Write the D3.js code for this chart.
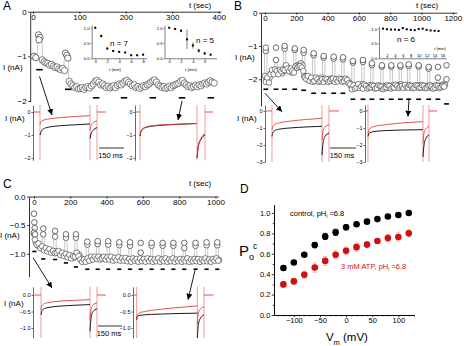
<!DOCTYPE html>
<html lang="en">
<head>
<meta charset="UTF-8">
<title>Figure</title>
<script src="https://cdn.jsdelivr.net/npm/d3@7/dist/d3.min.js"></script>
<style>
  body { margin: 0; background: #fff; }
  svg { display: block; }
</style>
</head>
<body>
<svg width="464" height="346"></svg>
<script>
// ---------- data: panel A time course ----------
const aEarly = [[2, -1.0], [6, -1.03], [12, -0.52], [15, -0.58], [13, -0.63], [70, -0.93], [73, -0.98], [75, -1.04]];
const aSpikeLines = [[10, -0.68, -0.95], [20, -0.68, -1.05], [67, -1.1, -1.35], [77, -1.12, -1.5]];
const aCloud1Start = 20, aCloud2Start = 78, aStep = 4;
const aCloud1 = [-1.08, -1.12, -1.15, -1.16, -1.2, -1.18, -1.22, -1.25, -1.24, -1.28, -1.3, -1.27, -1.32];
const aCloud2 = [-1.56, -1.62, -1.66, -1.7, -1.68, -1.73, -1.72, -1.7, -1.74, -1.7, -1.68, -1.71, -1.66, -1.62, -1.56, -1.54,
  -1.58, -1.64, -1.62, -1.66, -1.7, -1.67, -1.71, -1.68, -1.66, -1.7, -1.65, -1.62, -1.64, -1.6, -1.56, -1.54,
  -1.58, -1.62, -1.66, -1.64, -1.7, -1.68, -1.72, -1.69, -1.66, -1.68, -1.64, -1.62, -1.58, -1.55, -1.53,
  -1.58, -1.64, -1.67, -1.7, -1.68, -1.72, -1.7, -1.67, -1.7, -1.66, -1.64, -1.62, -1.6, -1.56, -1.54,
  -1.6, -1.64, -1.68, -1.66, -1.7, -1.68, -1.65, -1.68, -1.64, -1.66, -1.62, -1.6, -1.62, -1.58, -1.55, -1.58, -1.6];
const aDashes = [[14, -1.3], [76, -1.74], [136, -1.93], [196, -1.93], [258, -1.93], [321, -1.93], [383, -1.93]];

// insets of A
const aIn1T = [0, 1, 2, 3, 4, 5, 6, 7, 8];
const aIn1V = [1.0, 0.73, 0.32, 0.24, 0.21, 0.19, 0.1, 0.1, 0.12];
const aIn1E = [0.03, 0.05, 0.04, 0.03, 0.03, 0.02, 0.02, 0.02, 0.03];
const aIn2T = [0, 1, 2, 3, 4, 5, 6, 7];
const aIn2V = [1.0, 0.96, 0.9, 0.62, 0.42, 0.25, 0.16, 0.12];
const aIn2E = [0.02, 0.03, 0.05, 0.32, 0.1, 0.06, 0.05, 0.03];

// ---------- data: panel B time course ----------
const bCloud1Start = 0, bCloud2Start = 5, bStep = 10;
const bCloud1 = [-1.9, -2.0, -2.05, -1.95, -1.82, -1.78, -1.75, -1.8, -1.78, -1.76, -1.8, -1.82, -1.75, -1.65, -1.62, -1.7,
  -1.75, -1.8, -1.72, -1.68, -1.6, -1.58, -1.55, -1.52, -1.58, -1.9, -1.92, -1.95, -1.98, -2.0, -2.02, -1.98, -2.0,
  -2.05, -2.02, -1.98, -1.95, -2.0, -2.02, -2.05, -2.03, -2.0, -1.98, -2.02, -2.05, -2.03, -2.0, -2.02, -2.05, -2.03,
  -2.0, -2.02, -2.05, -2.08, -2.1, -2.2, -2.25, -2.22, -2.18, -2.2, -2.22, -2.18, -2.15, -2.2, -2.24, -2.22, -2.2,
  -2.18, -2.22, -2.25, -2.23, -2.2, -2.22, -2.25, -2.27, -2.24, -2.22, -2.2, -2.24, -2.26, -2.22, -2.2, -2.18, -2.22,
  -2.25, -2.2, -2.17, -2.15, -2.2, -2.24, -2.2, -2.18, -2.22, -2.25, -2.23, -2.2, -2.22, -2.24, -2.2, -2.18, -2.22,
  -2.25, -2.23, -2.2, -2.22, -2.24, -2.26, -2.23, -2.2, -2.22, -2.25, -2.22, -2.2, -2.18, -2.15, -2.17];
const bCloud2 = [-2.08, -1.95, -2.1, -1.85, -1.72, -1.85, -1.7, -1.75, -1.85, -1.72, -1.76, -1.7, -1.72, -1.58, -1.68, -1.76,
  -1.68, -1.74, -1.8, -1.62, -1.66, -1.62, -1.6, -1.65, -1.75, -1.95, -2.0, -1.9, -2.05, -1.95, -2.08, -2.05, -1.95,
  -2.0, -2.08, -2.05, -2.0, -2.08, -1.98, -2.0, -2.08, -2.05, -2.0, -1.98, -2.08, -2.0, -2.06, -1.98, -2.0, -2.08,
  -2.05, -1.98, -2.02, -2.12, -2.15, -2.3, -2.18, -2.28, -2.25, -2.15, -2.26, -2.22, -2.28, -2.16, -2.2, -2.28, -2.25,
  -2.24, -2.18, -2.2, -2.28, -2.26, -2.18, -2.2, -2.22, -2.3, -2.26, -2.24, -2.18, -2.2, -2.28, -2.24, -2.25, -2.16,
  -2.2, -2.26, -2.22, -2.2, -2.26, -2.17, -2.24, -2.25, -2.18, -2.2, -2.27, -2.25, -2.18, -2.2, -2.26, -2.24, -2.18,
  -2.2, -2.27, -2.25, -2.2, -2.18, -2.22, -2.28, -2.25, -2.18, -2.2, -2.26, -2.24, -2.2, -2.22];
const bSpikeT = [5, 70, 125, 190, 247, 311, 375, 439, 498, 562, 626, 683, 747, 807, 865, 918, 982, 1046, 1105, 1160];
const bSpikePeak = [-1.05, -1.05, -1.0, -1.07, -1.12, -1.22, -1.3, -1.32, -1.34, -1.45, -1.42, -1.52, -1.58, -1.58, -1.58,
  -1.55, -1.58, -1.63, -1.63, -1.58];
const bSpikeSecond = [-1.15, -1.42, -1.08, -1.12, -1.2, -1.28, -1.35, -1.38, -1.4, -1.5, -1.48, -1.58, -1.62, -1.62, -1.62,
  -1.6, -1.62, -1.68, -1.95, -2.0];
const bSpikeFoot = [-1.9, -1.75, -1.65, -1.7, -1.55, -1.98, -2.0, -2.0, -2.0, -2.2, -2.2, -2.2, -2.22, -2.2, -2.2, -2.2,
  -2.2, -2.22, -2.2, -2.15];
const bDashLevel = [-2.3, -2.3, -2.3, -2.3, -2.33, -2.42, -2.42, -2.42, -2.42, -2.6, -2.6, -2.6, -2.6, -2.6, -2.6, -2.6,
  -2.6, -2.6, -2.6, -2.74];
const bInT = [1, 2, 3, 4, 5, 6, 7, 8, 9, 10, 11, 12, 13, 14, 15];
const bInV = [1.0, 0.98, 0.97, 0.97, 0.96, 1.02, 0.98, 0.96, 0.95, 0.99, 1.0, 0.96, 0.94, 0.93, 0.92];

// ---------- data: panel C time course ----------
const cEarly = [[0, -0.3], [2, -0.45], [4, -0.55], [0, -0.63], [6, -0.66]];
const cCloud1Start = 0, cCloud2Start = 5, cStep = 10;
const cCloud1 = [-0.65, -0.8, -0.85, -0.88, -0.9, -0.9, -0.92, -0.93, -0.95, -0.94, -0.96, -0.97, -0.96, -0.98, -1.0, -0.99,
  -1.01, -1.02, -1.03, -1.04, -1.05, -1.06, -1.07, -1.03, -1.0, -1.02, -1.08, -1.12, -1.13, -1.12, -1.1, -1.08, -1.07,
  -1.08, -1.06, -1.07, -1.08, -1.06, -1.07, -1.08, -1.09, -1.08, -1.07, -1.08, -1.1, -1.09, -1.08, -1.1, -1.11, -1.1,
  -1.09, -1.1, -1.11, -1.12, -1.1, -1.09, -1.1, -1.12, -1.11, -1.1, -1.11, -1.12, -1.11, -1.1, -1.11, -1.12, -1.13,
  -1.11, -1.1, -1.12, -1.13, -1.11, -1.1, -1.12, -1.13, -1.12, -1.1, -1.11, -1.13, -1.12, -1.11, -1.12, -1.13, -1.12,
  -1.1, -1.11, -1.12, -1.13, -1.12, -1.11, -1.1, -1.12, -1.13, -1.12, -1.11, -1.1, -1.12, -1.13, -1.11, -1.1, -1.09,
  -1.1, -1.11];
const cCloud2 = [-0.75, -0.84, -0.82, -0.9, -0.87, -0.94, -0.9, -0.96, -0.92, -0.98, -0.95, -0.99, -0.98, -0.95, -1.02,
  -0.98, -1.04, -1.0, -1.06, -1.02, -1.08, -1.04, -1.05, -0.98, -1.04, -1.1, -1.14, -1.1, -1.14, -1.08, -1.12, -1.05,
  -1.1, -1.05, -1.09, -1.05, -1.1, -1.08, -1.05, -1.1, -1.06, -1.1, -1.05, -1.12, -1.07, -1.11, -1.06, -1.12, -1.08,
  -1.12, -1.07, -1.13, -1.09, -1.14, -1.08, -1.12, -1.09, -1.14, -1.08, -1.13, -1.09, -1.14, -1.08, -1.13, -1.09,
  -1.14, -1.1, -1.13, -1.08, -1.14, -1.1, -1.13, -1.08, -1.14, -1.1, -1.13, -1.08, -1.14, -1.1, -1.13, -1.09, -1.14,
  -1.1, -1.13, -1.08, -1.14, -1.1, -1.13, -1.09, -1.13, -1.09, -1.14, -1.1, -1.13, -1.08, -1.13, -1.1, -1.14, -1.09,
  -1.12, -1.08, -1.12];
const cSpikeT = [51, 116, 176, 231, 294, 351, 409, 470, 529, 588, 648, 709, 768, 828, 890, 951, 1010];
const cSpikePeak = [-0.56, -0.6, -0.66, -0.66, -0.79, -0.78, -0.78, -0.8, -0.8, -0.81, -0.81, -0.81, -0.81, -0.81, -0.81,
  -0.8, -0.8];
const cSpikeSecond = [-0.66, -0.7, -0.72, -0.72, -0.84, -0.83, -0.84, -0.85, -0.86, -0.98, -0.86, -0.86, -0.86, -0.9, -0.86,
  -0.85, -0.85];
const cSpikeFoot = [-0.95, -1.0, -1.03, -1.05, -1.1, -1.07, -1.08, -1.1, -1.1, -1.1, -1.1, -1.1, -1.1, -1.1, -1.1, -1.1, -1.1];
const cDashes = [[2, -0.96], [51, -1.09], [116, -1.1], [176, -1.16], [231, -1.23], [294, -1.27], [351, -1.27], [409, -1.27],
  [470, -1.27], [529, -1.27], [588, -1.27], [648, -1.27], [709, -1.27], [768, -1.27], [828, -1.27], [890, -1.27],
  [951, -1.27], [1010, -1.27]];

// ---------- data: current traces (ms, nA) ----------
const aLEvents = [42, 342, 384, 438];
const aLBlack = [[42, -1.0], [46, -0.9], [55, -0.78], [80, -0.68], [130, -0.62], [220, -0.57], [342, -0.52]];
const aLRed = [[42, -0.55], [46, -0.45], [55, -0.38], [80, -0.32], [130, -0.27], [220, -0.21], [342, -0.16]];
const aLBlackTail = [[342, -1.15], [348, -0.95], [360, -0.8], [384, -0.68]];
const aLRedTail = [[342, -0.8], [348, -0.6], [360, -0.48], [384, -0.38]];
const aREvents = [30, 372, 420, 468];
const aRBlack = [[30, -1.05], [34, -0.9], [45, -0.76], [70, -0.66], [120, -0.6], [220, -0.55], [372, -0.5]];
const aRRed = [[30, -1.0], [34, -0.86], [45, -0.73], [70, -0.64], [120, -0.58], [220, -0.54], [372, -0.5]];
const aRBlackTail = [[372, -2.0], [380, -1.5], [395, -1.2], [420, -1.0]];
const aRRedTail = [[372, -1.95], [380, -1.45], [395, -1.15], [420, -0.95]];

const bLEvents = [42, 342, 384, 444];
const bLBlack = [[42, -1.5], [46, -1.3], [55, -1.18], [80, -1.08], [150, -1.0], [250, -0.94], [342, -0.9]];
const bLRed = [[42, -1.1], [46, -0.95], [55, -0.82], [80, -0.72], [150, -0.6], [250, -0.5], [342, -0.43]];
const bLBlackTail = [[342, -2.6], [348, -1.9], [360, -1.5], [384, -1.3]];
const bLRedTail = [[342, -1.7], [348, -1.2], [360, -0.95], [384, -0.8]];
const bREvents = [18, 348, 384, 432];
const bRBlack = [[18, -1.5], [22, -1.35], [30, -1.28], [60, -1.2], [130, -1.15], [230, -1.12], [348, -1.1]];
const bRRed = [[18, -1.35], [22, -1.15], [30, -1.02], [60, -0.9], [130, -0.8], [230, -0.7], [348, -0.63]];
const bRBlackTail = [[348, -2.7], [354, -2.0], [366, -1.6], [384, -1.4]];
const bRRedTail = [[348, -1.9], [354, -1.3], [366, -1.05], [384, -0.9]];

const cLEvents = [48, 342, 384, 438];
const cLBlack = [[48, -0.6], [52, -0.5], [62, -0.43], [90, -0.38], [150, -0.34], [250, -0.31], [342, -0.29]];
const cLRed = [[48, -0.45], [52, -0.35], [62, -0.28], [90, -0.23], [150, -0.19], [250, -0.16], [342, -0.14]];
const cLBlackTail = [[342, -1.1], [348, -0.7], [360, -0.5], [384, -0.42]];
const cLRedTail = [[342, -0.75], [348, -0.45], [360, -0.3], [384, -0.24]];
const cREvents = [22, 386, 426, 482];
const cRBlack = [[22, -0.75], [26, -0.66], [36, -0.62], [70, -0.6], [150, -0.58], [270, -0.56], [386, -0.55]];
const cRRed = [[22, -0.7], [26, -0.6], [36, -0.55], [70, -0.5], [150, -0.44], [270, -0.38], [386, -0.33]];
const cRBlackTail = [[386, -1.3], [392, -0.9], [405, -0.7], [426, -0.6]];
const cRRedTail = [[386, -0.9], [392, -0.55], [405, -0.42], [426, -0.36]];

// ---------- data: panel D ----------
const dVm = [-120, -100, -80, -60, -40, -20, 0, 20, 40, 60, 80, 100, 120];
const dControl = [0.46, 0.515, 0.59, 0.685, 0.77, 0.81, 0.86, 0.89, 0.915, 0.94, 0.965, 0.98, 1.0];
const dControlErr = [0.02, 0.015, 0.015, 0.025, 0.03, 0.03, 0.025, 0.015, 0.015, 0.015, 0.015, 0.015, 0.01];
const dATP = [0.30, 0.33, 0.395, 0.465, 0.53, 0.59, 0.63, 0.665, 0.69, 0.725, 0.755, 0.765, 0.80];
const dATPErr = [0.025, 0.03, 0.035, 0.045, 0.045, 0.04, 0.035, 0.04, 0.03, 0.025, 0.035, 0.04, 0.035];

// ---------- drawing ----------
const FONT = '"Liberation Sans", Arial, sans-serif';
const RED = '#e0403c', PINK = '#f3a3a3';
const svg = d3.select('svg').attr('font-family', FONT);

svg.append('defs').append('marker')
  .attr('id', 'arrow').attr('markerUnits', 'userSpaceOnUse')
  .attr('markerWidth', 6).attr('markerHeight', 6).attr('refX', 6).attr('refY', 3).attr('orient', 'auto')
  .append('path').attr('d', 'M0,0 L6,3 L0,6 Z').attr('fill', '#000');

function styleAxis(g, fs) {
  g.attr('font-family', FONT).attr('font-size', fs);
  g.select('.domain').attr('stroke-width', 0.8);
  g.selectAll('.tick line').attr('stroke-width', 0.8);
  g.selectAll('.tick text').attr('fill', '#000');
}
const expand = (start, step, vals) => vals.map((v, i) => [start + i * step, v]);

function text(x, y, s, fs, opts = {}) {
  return svg.append('text').attr('x', x).attr('y', y).attr('font-size', fs)
    .attr('text-anchor', opts.anchor || 'start').attr('fill', opts.fill || '#000').text(s);
}

function timeCourse(p) {
  const x = d3.scaleLinear().domain(p.xDomain).range(p.xRange);
  const y = d3.scaleLinear().domain(p.yDomain).range(p.yRange);
  svg.append('g').attr('transform', `translate(0,${y(0)})`)
    .call(d3.axisBottom(x).tickValues(p.xTicks).tickFormat(d3.format('d')).tickSize(2).tickSizeOuter(0).tickPadding(0.5))
    .call(s => styleAxis(s, 8));
  svg.append('g').attr('transform', `translate(${p.xRange[0]},0)`)
    .call(d3.axisLeft(y).tickValues(p.yTicks).tickFormat(p.yFmt).tickSize(2).tickSizeOuter(0).tickPadding(1.5))
    .call(s => styleAxis(s, 8));
  const g = svg.append('g');
  // grey connecting lines of the pulse points
  g.selectAll('.sl').data(p.spikeLines).join('line')
    .attr('x1', d => x(d[0]) + (d[3] || 0)).attr('x2', d => x(d[0]) + (d[3] || 0))
    .attr('y1', d => y(d[1])).attr('y2', d => y(d[2]))
    .attr('stroke', '#b0b0b0').attr('stroke-width', 0.7);
  g.selectAll('.pt').data(p.points).join('circle')
    .attr('cx', d => x(d[0])).attr('cy', d => y(d[1])).attr('r', p.r)
    .attr('fill', '#fff').attr('stroke', '#303030').attr('stroke-width', 0.6);
  g.selectAll('.sp').data(p.spikePoints).join('circle')
    .attr('cx', d => x(d[0])).attr('cy', d => y(d[1])).attr('r', p.r)
    .attr('fill', '#fff').attr('stroke', '#303030').attr('stroke-width', 0.7);
  g.selectAll('.dash').data(p.dashes).join('line')
    .attr('x1', d => x(d[0]) - p.dashW / 2).attr('x2', d => x(d[0]) + p.dashW / 2)
    .attr('y1', d => y(d[1])).attr('y2', d => y(d[1]))
    .attr('stroke', '#000').attr('stroke-width', 1.6);
  return { x, y };
}

function inset(p) {
  const x = d3.scaleLinear().domain(p.xDomain).range(p.xRange);
  const y = d3.scaleLinear().domain([0, 1.08]).range(p.yRange);
  const thin = s => { styleAxis(s, 4.2); s.select('.domain').attr('stroke-width', 0.5); s.selectAll('.tick line').attr('stroke-width', 0.5); };
  const xa = p.labelsAbove
    ? d3.axisTop(x).tickValues(p.xTicks).tickSize(1.2).tickPadding(0.5)
    : d3.axisBottom(x).tickValues(p.xTicks).tickSize(1.2).tickPadding(0.5);
  svg.append('g').attr('transform', `translate(0,${y(0)})`).call(xa.tickSizeOuter(0)).call(thin);
  svg.append('g').attr('transform', `translate(${p.xRange[0]},0)`)
    .call(d3.axisLeft(y).tickValues([0, 0.5, 1]).tickFormat(d3.format('.1f')).tickSize(1.2).tickSizeOuter(0).tickPadding(0.8))
    .call(thin);
  const g = svg.append('g');
  if (p.err) {
    g.selectAll('line.e').data(p.t).join('line')
      .attr('x1', d => x(d)).attr('x2', d => x(d))
      .attr('y1', (d, i) => y(p.v[i] + p.err[i])).attr('y2', (d, i) => y(p.v[i] - p.err[i]))
      .attr('stroke', '#000').attr('stroke-width', 0.5);
  }
  g.selectAll('rect').data(p.t).join('rect')
    .attr('x', d => x(d) - 1).attr('y', (d, i) => y(p.v[i]) - 1).attr('width', 2).attr('height', 2).attr('fill', '#000');
  text(p.xLabelPos[0], p.xLabelPos[1], 't (min)', 4.2, { anchor: p.xLabelAnchor || 'middle' });
  text(p.nPos[0], p.nPos[1], p.nText, 8);
}

function trace(p) {
  const x = d3.scaleLinear().domain([0, 150]).range([p.axisX, p.axisX + 25]);
  const y = d3.scaleLinear().domain(p.yDomain).range(p.yRange);
  svg.append('g').attr('transform', `translate(${p.axisX},0)`)
    .call(d3.axisLeft(y).tickValues(p.yTicks).tickFormat(p.yFmt).tickSize(1.5).tickSizeOuter(0).tickPadding(1))
    .call(s => { styleAxis(s, 5.5); s.select('.domain').attr('stroke-width', 0.6); s.selectAll('.tick line').attr('stroke-width', 0.6); });
  const g = svg.append('g');
  const line = d3.line().x(d => x(d[0])).y(d => y(d[1])).curve(d3.curveMonotoneX);
  const ev = p.events;
  g.selectAll('line.cap').data(ev.slice(0, 3)).join('line')
    .attr('x1', d => x(d)).attr('x2', d => x(d)).attr('y1', p.yRange[0]).attr('y2', p.yRange[1])
    .attr('stroke', PINK).attr('stroke-width', 1.1);
  g.append('path').attr('d', line([[0, 0], [ev[0], 0]])).attr('stroke', RED).attr('fill', 'none').attr('stroke-width', 0.9);
  g.append('path').attr('d', line([[ev[2], 0], [ev[3], 0]])).attr('stroke', RED).attr('fill', 'none').attr('stroke-width', 0.9);
  [[p.black, '#000'], [p.blackTail, '#000'], [p.red, RED], [p.redTail, RED]].forEach(([d, c]) => {
    g.append('path').attr('d', line(d)).attr('stroke', c).attr('fill', 'none').attr('stroke-width', 0.9);
  });
  return { x, y };
}

function arrow(from, to) {
  svg.append('line').attr('x1', from[0]).attr('y1', from[1]).attr('x2', to[0]).attr('y2', to[1])
    .attr('stroke', '#000').attr('stroke-width', 0.9).attr('marker-end', 'url(#arrow)');
}

function scaleBar(x0, x1, y, ty) {
  svg.append('line').attr('x1', x0).attr('x2', x1).attr('y1', y).attr('y2', y)
    .attr('stroke', '#000').attr('stroke-width', 0.8);
  text((x0 + x1) / 2 - 1, ty, '150 ms', 7.5, { anchor: 'middle' });
}

// ----- Panel A -----
const A = timeCourse({
  xDomain: [-6, 405], xRange: [30.2, 221], yDomain: [0, -2.02], yRange: [11.7, 101.8],
  xTicks: [0, 100, 200, 300, 400], yTicks: [0, -1, -2], yFmt: d3.format('d'), r: 3.2, dashW: 6.5,
  spikeLines: aSpikeLines,
  points: expand(aCloud1Start, aStep, aCloud1).concat(expand(aCloud2Start, aStep, aCloud2)),
  spikePoints: aEarly, dashes: aDashes
});
text(3, 10, 'A', 12);
text(200, 8, 't (sec)', 8, { anchor: 'middle' });
text(3, 70, 'I (nA)', 8);
inset({ xDomain: [-0.6, 8.6], xRange: [91.7, 146.7], yRange: [58.3, 25.3], xTicks: [0, 2, 4, 6, 8],
  t: aIn1T, v: aIn1V, err: aIn1E, xLabelPos: [115, 70.5], nPos: [110, 46], nText: 'n = 7' });
inset({ xDomain: [-0.8, 8], xRange: [164.5, 216.5], yRange: [58.3, 25.3], xTicks: [0, 2, 4, 6],
  t: aIn2T, v: aIn2V, err: aIn2E, xLabelPos: [191, 70.5], nPos: [196, 43], nText: 'n = 5' });

const aL = trace({ axisX: 33, yDomain: [0.3, -2.1], yRange: [105.1, 160.3], yTicks: [0, -1, -2], yFmt: d3.format('d'),
  events: aLEvents, black: aLBlack, red: aLRed, blackTail: aLBlackTail, redTail: aLRedTail });
const aR = trace({ axisX: 135, yDomain: [0.3, -2.1], yRange: [105.1, 160.3], yTicks: [0, -1, -2], yFmt: d3.format('d'),
  events: aREvents, black: aRBlack, red: aRRed, blackTail: aRBlackTail, redTail: aRRedTail });
text(5, 121, 'I (nA)', 8);
scaleBar(99, 124, 148, 158);
arrow([A.x(14), A.y(-1.45)], [aL.x(114), aL.y(-0.13)]);
arrow([A.x(321), A.y(-2.0)], [aR.x(258), aR.y(-0.35)]);

// ----- Panel B -----
const B = timeCourse({
  xDomain: [-25.6, 1225], xRange: [261, 456.7], yDomain: [0, -2.8], yRange: [12.7, 105.9],
  xTicks: [0, 200, 400, 600, 800, 1000, 1200], yTicks: [0, -1, -2], yFmt: d3.format('d'), r: 2.8, dashW: 4.8,
  spikeLines: bSpikeT.map((t, i) => [t, bSpikeSecond[i] - 0.06, bSpikeFoot[i], -1.2])
    .concat(bSpikeT.map((t, i) => [t, bSpikeSecond[i] - 0.06, bSpikeFoot[i], 1.2])),
  points: expand(bCloud1Start, bStep, bCloud1).concat(expand(bCloud2Start, bStep, bCloud2)),
  spikePoints: bSpikeT.map((t, i) => [t, bSpikeSecond[i]]).concat(bSpikeT.map((t, i) => [t, bSpikePeak[i]])),
  dashes: bSpikeT.map((t, i) => [t, bDashLevel[i]])
});
text(234, 10, 'B', 12);
text(427, 8, 't (sec)', 8, { anchor: 'middle' });
text(235, 60, 'I (nA)', 8);
inset({ xDomain: [0, 17], xRange: [379, 446.5], yRange: [58.3, 26.3], xTicks: [2, 4, 6, 8, 10, 12, 14, 16],
  labelsAbove: true, t: bInT, v: bInV, xLabelPos: [446, 49.5], xLabelAnchor: 'end', nPos: [397, 42], nText: 'n = 6' });

const bL = trace({ axisX: 265, yDomain: [0.35, -3.0], yRange: [105, 162], yTicks: [0, -1, -2, -3], yFmt: d3.format('d'),
  events: bLEvents, black: bLBlack, red: bLRed, blackTail: bLBlackTail, redTail: bLRedTail });
const bR = trace({ axisX: 365, yDomain: [0.35, -3.0], yRange: [105, 162], yTicks: [0, -1, -2, -3], yFmt: d3.format('d'),
  events: bREvents, black: bRBlack, red: bRRed, blackTail: bRBlackTail, redTail: bRRedTail });
text(237, 121, 'I (nA)', 8);
scaleBar(330, 356, 148, 158);
arrow([B.x(0), B.y(-2.42)], [bL.x(102), bL.y(-0.05)]);
arrow([B.x(920), B.y(-2.58)], [bR.x(258), bR.y(-0.33)]);

// ----- Panel C -----
const C = timeCourse({
  xDomain: [-27.5, 1015], xRange: [29, 218.2], yDomain: [0, -1.4], yRange: [196.5, 276.7],
  xTicks: [0, 200, 400, 600, 800, 1000], yTicks: [0, -0.5, -1.0], yFmt: d3.format('.1f'), r: 2.8, dashW: 4.2,
  spikeLines: cSpikeT.map((t, i) => [t, cSpikeSecond[i] - 0.05, cSpikeFoot[i], -1.2])
    .concat(cSpikeT.map((t, i) => [t, cSpikeSecond[i] - 0.05, cSpikeFoot[i], 1.2])),
  points: expand(cCloud1Start, cStep, cCloud1).concat(expand(cCloud2Start, cStep, cCloud2)),
  spikePoints: cEarly.concat(cSpikeT.map((t, i) => [t, cSpikeSecond[i]]), cSpikeT.map((t, i) => [t, cSpikePeak[i]])),
  dashes: cDashes
});
text(3, 188, 'C', 12);
text(200, 186, 't (sec)', 8, { anchor: 'middle' });
text(0, 238, 'I (nA)', 8);

const cL = trace({ axisX: 33, yDomain: [0.25, -1.3], yRange: [286.8, 337.9], yTicks: [0, -0.5, -1.0], yFmt: d3.format('.1f'),
  events: cLEvents, black: cLBlack, red: cLRed, blackTail: cLBlackTail, redTail: cLRedTail });
const cR = trace({ axisX: 133, yDomain: [0.25, -1.3], yRange: [286.8, 337.9], yTicks: [0, -0.5, -1.0], yFmt: d3.format('.1f'),
  events: cREvents, black: cRBlack, red: cRRed, blackTail: cRBlackTail, redTail: cRRedTail });
text(4, 306, 'I (nA)', 8);
scaleBar(98, 122, 326, 336);
arrow([C.x(-5), C.y(-1.07)], [cL.x(114), cL.y(0.21)]);
arrow([C.x(887), C.y(-1.29)], [cR.x(330), cR.y(-0.14)]);

// ----- Panel D -----
const dx = d3.scaleLinear().domain([-138, 130]).range([274, 414]);
const dy = d3.scaleLinear().domain([0, 1.08]).range([315, 204.8]);
svg.append('g').attr('transform', 'translate(0,315)')
  .call(d3.axisBottom(dx).tickValues(d3.range(-130, 131, 10)).tickFormat('').tickSize(1.3).tickSizeOuter(0))
  .call(s => styleAxis(s, 7.5));
svg.append('g').attr('transform', 'translate(0,315)')
  .call(d3.axisBottom(dx).tickValues([-100, -50, 0, 50, 100]).tickSize(2.2).tickSizeOuter(0).tickPadding(0.5))
  .call(s => styleAxis(s, 7.5));
svg.append('g').attr('transform', 'translate(274,0)')
  .call(d3.axisLeft(dy).tickValues(d3.range(0.1, 1.05, 0.2)).tickFormat('').tickSize(1.3).tickSizeOuter(0))
  .call(s => styleAxis(s, 7.5));
svg.append('g').attr('transform', 'translate(274,0)')
  .call(d3.axisLeft(dy).tickValues([0, 0.2, 0.4, 0.6, 0.8, 1.0]).tickFormat(d3.format('.1f')).tickSize(2.2).tickSizeOuter(0).tickPadding(1.5))
  .call(s => styleAxis(s, 7.5));

function dSeries(vals, errs, fill, errColor) {
  const g = svg.append('g');
  dVm.forEach((v, i) => {
    const cx = dx(v), lo = dy(vals[i] - errs[i]), hi = dy(vals[i] + errs[i]);
    g.append('line').attr('x1', cx).attr('x2', cx).attr('y1', lo).attr('y2', hi).attr('stroke', errColor).attr('stroke-width', 0.8);
    [lo, hi].forEach(yy => g.append('line').attr('x1', cx - 2.2).attr('x2', cx + 2.2).attr('y1', yy).attr('y2', yy)
      .attr('stroke', errColor).attr('stroke-width', 0.8));
  });
  g.selectAll('circle').data(dVm).join('circle')
    .attr('cx', d => dx(d)).attr('cy', (d, i) => dy(vals[i])).attr('r', 3.3).attr('fill', fill);
}
dSeries(dControl, dControlErr, '#000', '#000');
dSeries(dATP, dATPErr, '#d01010', '#f0a0a0');

text(240, 193, 'D', 12);
const ctl = text(290, 216, 'control, pH', 7.5);
ctl.append('tspan').attr('font-size', 5).attr('dy', 1.8).text('i');
ctl.append('tspan').attr('dy', -1.8).text(' =6.8');
const atp = text(341, 269, '3 mM ATP, pH', 7.5, { fill: '#d01010' });
atp.append('tspan').attr('font-size', 5).attr('dy', 1.8).text('i');
atp.append('tspan').attr('dy', -1.8).text(' =6.8');
text(239, 256, 'P', 15);
text(249, 260, 'o', 9);
text(253, 249, 'c', 8.5);
text(326, 341, 'V', 11.5);
text(333.5, 345, 'm', 7.5);
text(343, 341, '(mV)', 11.5);
</script>
</body>
</html>
